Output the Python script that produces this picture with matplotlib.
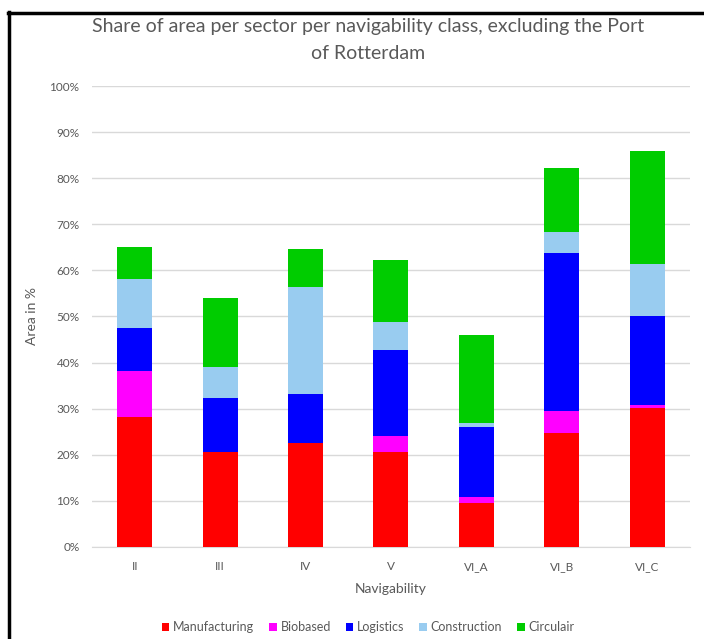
import matplotlib
matplotlib.use("Agg")
import matplotlib.pyplot as plt
from matplotlib.patches import Patch
from matplotlib.lines import Line2D
import numpy as np

plt.rcParams["font.family"] = ["Lato", "DejaVu Sans"]

# values (percent of area)
classes = ["II", "III", "IV", "V", "VI_A", "VI_B", "VI_C"]
manufacturing = [28.1, 20.7, 22.6, 20.7, 9.6, 24.8, 30.2]
biobased = [10.1, 0.0, 0.0, 3.3, 1.2, 4.6, 0.7]
logistics = [9.2, 11.7, 10.5, 18.8, 15.2, 34.3, 19.1]
construction = [10.7, 6.7, 23.4, 6.1, 1.0, 4.6, 11.3]
circulair = [6.9, 14.9, 8.1, 13.4, 18.9, 13.9, 24.5]

series = [
    ("Manufacturing", manufacturing, "#FF0000"),
    ("Biobased", biobased, "#FF00FF"),
    ("Logistics", logistics, "#0000FF"),
    ("Construction", construction, "#99CCF0"),
    ("Circulair", circulair, "#00CC00"),
]

GREY = "#595959"

fig = plt.figure(figsize=(7.04, 6.39), dpi=100)
ax = fig.add_axes([0.1307, 0.144, 0.849, 0.7214])

x = np.arange(len(classes))
bottom = np.zeros(len(classes))
for name, vals, col in series:
    v = np.array(vals) / 100.0
    ax.bar(x, v, 0.41, bottom=bottom, color=col, zorder=3)
    bottom += v

ax.set_xlim(-0.5, len(classes) - 0.5)
ax.set_ylim(0, 1.0)
ax.set_yticks(np.arange(0, 1.01, 0.1))
ax.set_yticklabels([f"{int(round(t * 100))}%" for t in np.arange(0, 1.01, 0.1)])
ax.set_xticks(x)
ax.set_xticklabels(classes)
ax.tick_params(length=0, colors=GREY, labelsize=8.5)
ax.tick_params(axis="y", pad=9)
ax.tick_params(axis="x", pad=10)
ax.grid(axis="y", color="#d9d9d9", lw=1, zorder=0)
for s in ["top", "right", "left"]:
    ax.spines[s].set_visible(False)
ax.spines["bottom"].set_color("#d9d9d9")

ax.set_xlabel("Navigability", color=GREY, fontsize=10, labelpad=8)
ax.set_ylabel("Area in %", color=GREY, fontsize=10, labelpad=8)

fig.text(0.523, 0.958, "Share of area per sector per navigability class, excluding the Port",
         ha="center", va="center", color=GREY, fontsize=14)
fig.text(0.523, 0.917, "of Rotterdam", ha="center", va="center", color=GREY, fontsize=14)

handles = [Patch(facecolor=c, label=n) for n, _, c in series]
fig.legend(handles=handles, loc="center", bbox_to_anchor=(0.523, 0.018), ncol=5,
           frameon=False, fontsize=9, labelcolor=GREY, handlelength=0.6,
           handleheight=0.6, handletextpad=0.3, columnspacing=1.2)

# black frame around the chart (top and left edges visible)
fig.add_artist(Line2D([0.012, 1.0], [0.980, 0.980], color="black", lw=2.5,
                      transform=fig.transFigure))
fig.add_artist(Line2D([0.013, 0.013], [0.0, 0.981], color="black", lw=2.5,
                      transform=fig.transFigure))

fig.savefig("out.png", dpi=100)
